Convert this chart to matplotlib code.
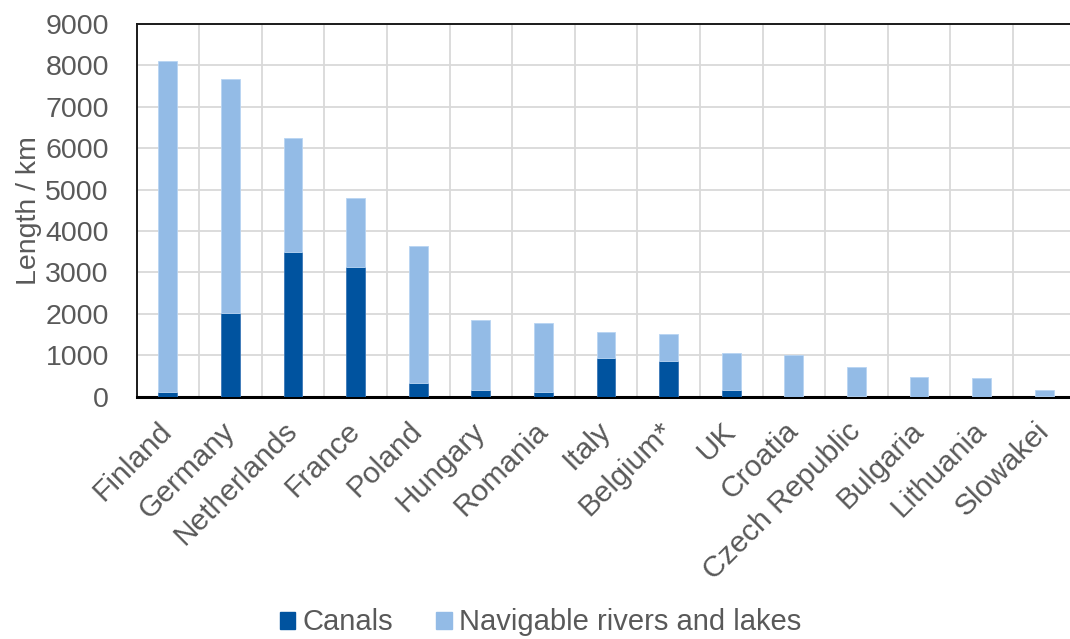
import numpy as np
import matplotlib.pyplot as plt
import matplotlib.transforms as mtransforms
from matplotlib.patches import Patch

# Inland waterway lengths by country (km)
countries = ['Finland', 'Germany', 'Netherlands', 'France', 'Poland', 'Hungary',
             'Romania', 'Italy', 'Belgium*', 'UK', 'Croatia', 'Czech Republic',
             'Bulgaria', 'Lithuania', 'Slowakei']
canals = [110, 2010, 3495, 3125, 330, 160, 115, 935, 870, 155, 0, 25, 0, 0, 20]
totals = [8105, 7665, 6245, 4805, 3640, 1850, 1770, 1555, 1505, 1048, 1014, 710, 468, 444, 169]
rivers = [t - c for t, c in zip(totals, canals)]

DARK = '#00539f'
LIGHT = '#93bbe6'
TEXT = '#595959'
FS = 20.5

plt.rcParams['font.family'] = ['Liberation Sans', 'DejaVu Sans']

fig = plt.figure(figsize=(10.70, 6.39), dpi=100)
ax = fig.add_axes([0.1276, 0.3792, 0.8776, 0.5832])

x = np.arange(len(countries))
w = 0.30
ax.bar(x, canals, width=w, color=DARK, edgecolor='#3a78b8', linewidth=0.6, zorder=3)
ax.bar(x, rivers, bottom=canals, width=w, color=LIGHT, edgecolor='#b8d4f2',
       linewidth=0.6, zorder=3)

ax.set_xlim(-0.5, len(countries) - 0.5)
ax.set_ylim(0, 9000)
ax.set_yticks(np.arange(0, 9001, 1000))
ax.set_xticks(x)
ax.set_xticklabels([])
ax.set_xticks(np.arange(0.5, len(countries) - 0.5, 1), minor=True)

# rotated category labels, anchored just below each bar
lbl_tr = ax.get_xaxis_transform() + mtransforms.ScaledTranslation(
    -10 / 100, -20 / 100, fig.dpi_scale_trans)
for xi, name in zip(x, countries):
    ax.text(xi, 0, name, transform=lbl_tr, rotation=45, rotation_mode='anchor',
            ha='right', va='top', fontsize=21.5, color=TEXT)

ax.grid(True, axis='y', color='#d9d9d9', linewidth=1.3, zorder=0)
ax.grid(True, axis='x', which='minor', color='#d9d9d9', linewidth=1.3, zorder=0)
ax.set_axisbelow(True)

ax.tick_params(axis='both', which='both', length=0, labelcolor=TEXT)
ax.tick_params(axis='y', labelsize=FS, pad=20)

for side in ('left', 'top'):
    ax.spines[side].set_color('#1a1a1a')
    ax.spines[side].set_linewidth(1.4)
ax.spines['bottom'].set_color('black')
ax.spines['bottom'].set_linewidth(2.2)
ax.spines['right'].set_visible(False)

ax.set_ylabel('Length / km', fontsize=FS, color=TEXT, labelpad=2)

handles = [Patch(color=DARK, label='Canals'),
           Patch(color=LIGHT, label='Navigable rivers and lakes')]
fig.legend(handles=handles, loc='lower center', bbox_to_anchor=(0.505, -0.037),
           ncol=2, frameon=False, fontsize=21, labelcolor=TEXT,
           handlelength=0.52, handleheight=0.52, handletextpad=0.25,
           columnspacing=1.5)

fig.savefig('out.png', dpi=100)
